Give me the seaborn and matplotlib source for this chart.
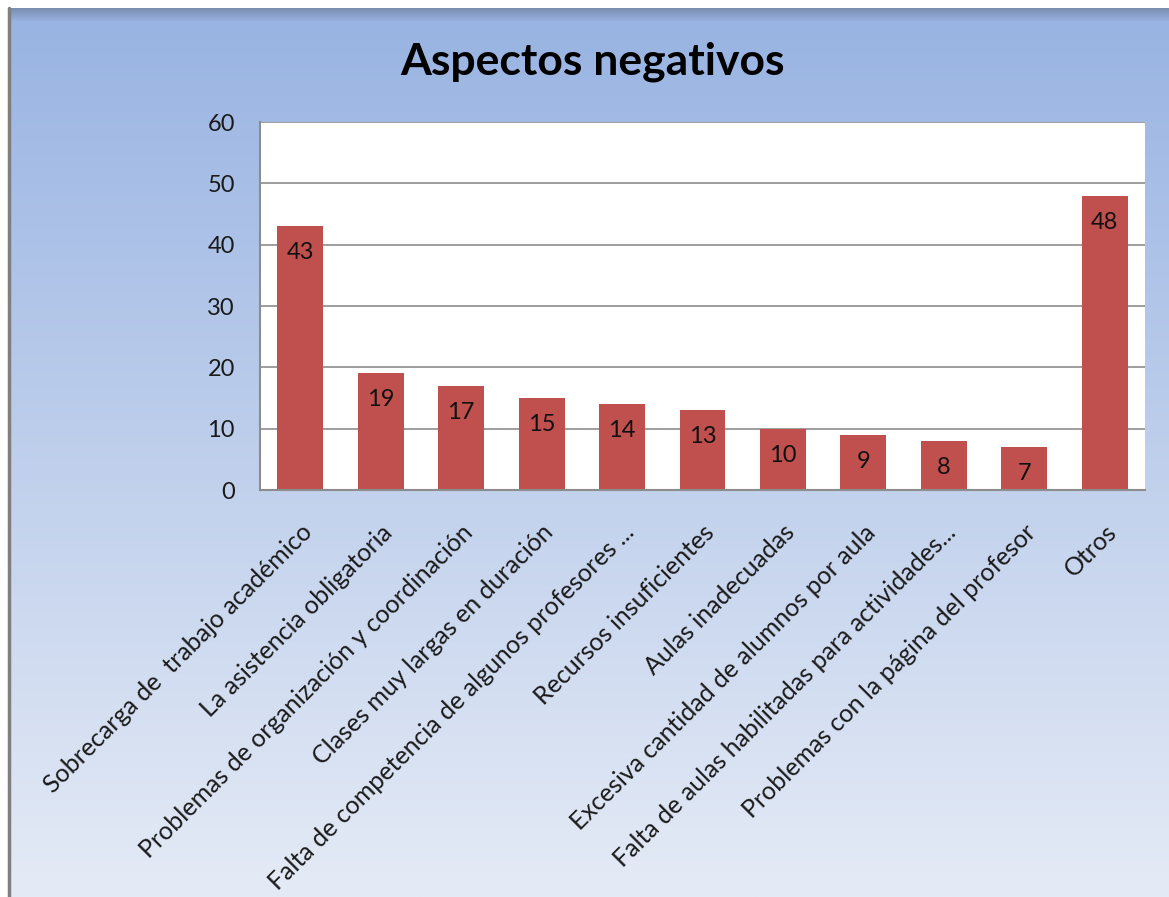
import numpy as np
import pandas as pd
import matplotlib
matplotlib.use("Agg")
import matplotlib.pyplot as plt
import seaborn as sns

categories = [
    "Sobrecarga de  trabajo académico",
    "La asistencia obligatoria",
    "Problemas de organización y coordinación",
    "Clases muy largas en duración",
    "Falta de competencia de algunos profesores ...",
    "Recursos insuficientes",
    "Aulas inadecuadas",
    "Excesiva cantidad de alumnos por aula",
    "Falta de aulas habilitadas para actividades...",
    "Problemas con la página del profesor",
    "Otros",
]
values = [43, 19, 17, 15, 14, 13, 10, 9, 8, 7, 48]
yticks = [0, 10, 20, 30, 40, 50, 60]
title = "Aspectos negativos"

sns.set_theme(style="white")
plt.rcParams["font.family"] = ["Lato", "DejaVu Sans"]

W, H = 1169, 897
fig = plt.figure(figsize=(W / 100, H / 100), dpi=100)
fig.patch.set_facecolor("white")

# background gradient panel
bg = fig.add_axes([10 / W, 0, 1 - 10 / W, 1 - 8 / H], zorder=0)
top_c = np.array([0x98, 0xb3, 0xe2]) / 255
bot_c = np.array([0xe5, 0xeb, 0xf6]) / 255
t = np.linspace(0, 1, 400)[:, None]
grad = top_c[None, :] * (1 - t) + bot_c[None, :] * t
grad = np.repeat(grad[:, None, :], 2, axis=1)
n_sh = int(400 * 14 / 889)
for i in range(n_sh):
    a = 1 - i / n_sh
    grad[i] = grad[i] * (1 - 0.5 * a) + np.array([0.35, 0.4, 0.5]) * 0.5 * a
bg.imshow(grad, aspect="auto", extent=[0, 1, 0, 1])
bg.set_axis_off()
fig.add_artist(plt.Line2D([9 / W, 9 / W], [0, 1 - 8 / H], color="#7f7f7f", lw=2.5))

ax = fig.add_axes([260 / W, 1 - 490 / H, (1145 - 260) / W, (490 - 122) / H], zorder=1)
df = pd.DataFrame({"cat": categories, "val": values})
sns.barplot(data=df, x="cat", y="val", color="#c0504d", width=0.57,
            saturation=1, ax=ax, edgecolor="none")
ax.set_facecolor("white")
ax.set_ylim(0, 60)
ax.set_yticks(yticks)
ax.set_yticklabels([str(v) for v in yticks], fontsize=17, color="#1a1a1a")
ax.yaxis.grid(True, color="#8c8c8c", lw=1.2)
ax.set_axisbelow(True)
ax.set_xlabel("")
ax.set_ylabel("")
for s in ["top", "right"]:
    ax.spines[s].set_visible(False)
for s in ["left", "bottom"]:
    ax.spines[s].set_color("#8c8c8c")
    ax.spines[s].set_linewidth(1.5)
ax.tick_params(axis="y", length=0, pad=18)
ax.tick_params(axis="x", length=0, pad=22)
ax.set_xticks(range(len(categories)))
ax.set_xticklabels(categories, rotation=45, ha="right", rotation_mode="anchor",
                   fontsize=18, color="#1a1a1a")
for i, v in enumerate(values):
    ax.text(i, v - 2.6, str(v), ha="center", va="top", fontsize=17, color="#111111")

fig.text(593 / W, 1 - 62 / H, title, ha="center", va="center", fontsize=32,
         fontweight="bold", color="black")

fig.savefig("out.png", dpi=100, facecolor=fig.get_facecolor())
